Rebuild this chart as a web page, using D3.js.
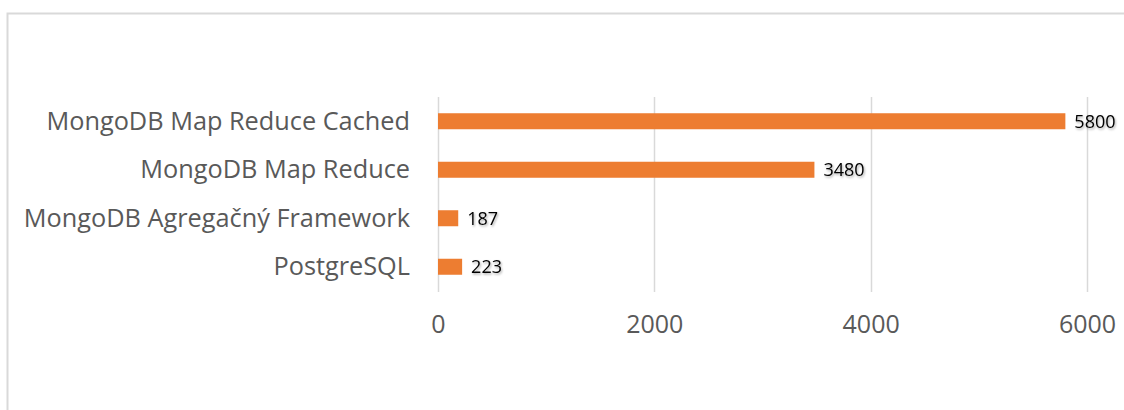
<!DOCTYPE html>
<html><head><meta charset="utf-8">
<script src="https://cdn.jsdelivr.net/npm/d3@7"></script>
<style>body{margin:0;background:#fff}svg{display:block}</style>
</head><body>
<script>
const categories = ["MongoDB Map Reduce Cached", "MongoDB Map Reduce", "MongoDB Agregačný Framework", "PostgreSQL"];
const values = [5800, 3480, 187, 223];
const tickValues = [0, 2000, 4000, 6000];

const W = 1124, H = 410;
const svg = d3.select("body").append("svg").attr("width", W).attr("height", H);
svg.append("rect").attr("width", W).attr("height", H).attr("fill", "#fff");
// frame
svg.append("path").attr("d", `M7.5,${H} V13.5 H${W}`).attr("fill", "none").attr("stroke", "#d9d9d9").attr("stroke-width", 2);

const x = d3.scaleLinear().domain([0, 6000]).range([438, 1087]);
const y = d3.scaleBand().domain(categories).range([97, 291]).paddingInner(0.67).paddingOuter(0.335);

const font = "'Open Sans', 'Noto Sans', sans-serif";

// gridlines
svg.append("g").selectAll("line").data(tickValues).join("line")
  .attr("x1", d => Math.round(x(d)) + 0.5).attr("x2", d => Math.round(x(d)) + 0.5)
  .attr("y1", 97).attr("y2", 292).attr("stroke", "#d9d9d9").attr("stroke-width", 1.5);

// x axis labels
const xAxis = d3.axisBottom(x).tickValues(tickValues).tickSize(0).tickPadding(0).tickFormat(d3.format("d"));
const gx = svg.append("g").attr("transform", "translate(0,315)").call(xAxis);
gx.select(".domain").remove();
gx.selectAll("text").attr("font-family", font).attr("font-size", 25).attr("fill", "#595959");

// y axis labels
const yAxis = d3.axisLeft(y).tickSize(0).tickPadding(0);
const gy = svg.append("g").attr("transform", "translate(410,0)").call(yAxis);
gy.select(".domain").remove();
gy.selectAll("text").attr("font-family", font).attr("font-size", 25.3).attr("fill", "#595959").attr("dy", "0.34em");

// bars
svg.append("g").selectAll("rect").data(values).join("rect")
  .attr("x", x(0)).attr("y", (d, i) => y(categories[i]))
  .attr("width", d => x(d) - x(0)).attr("height", y.bandwidth())
  .attr("fill", "#ED7D31");

// shadow filter
const defs = svg.append("defs");
const f = defs.append("filter").attr("id", "sh").attr("x", "-20%").attr("y", "-30%").attr("width", "150%").attr("height", "170%");
f.append("feDropShadow").attr("dx", 1).attr("dy", 1.5).attr("stdDeviation", 1).attr("flood-color", "#000").attr("flood-opacity", 0.35);

svg.append("g").selectAll("text").data(values).join("text")
  .attr("x", d => x(d) + 9).attr("y", (d, i) => y(categories[i]) + y.bandwidth() / 2)
  .attr("dy", "0.35em")
  .attr("font-family", font).attr("font-size", 18).attr("fill", "#000")
  .attr("filter", "url(#sh)")
  .text(d => d);
</script>
</body></html>
